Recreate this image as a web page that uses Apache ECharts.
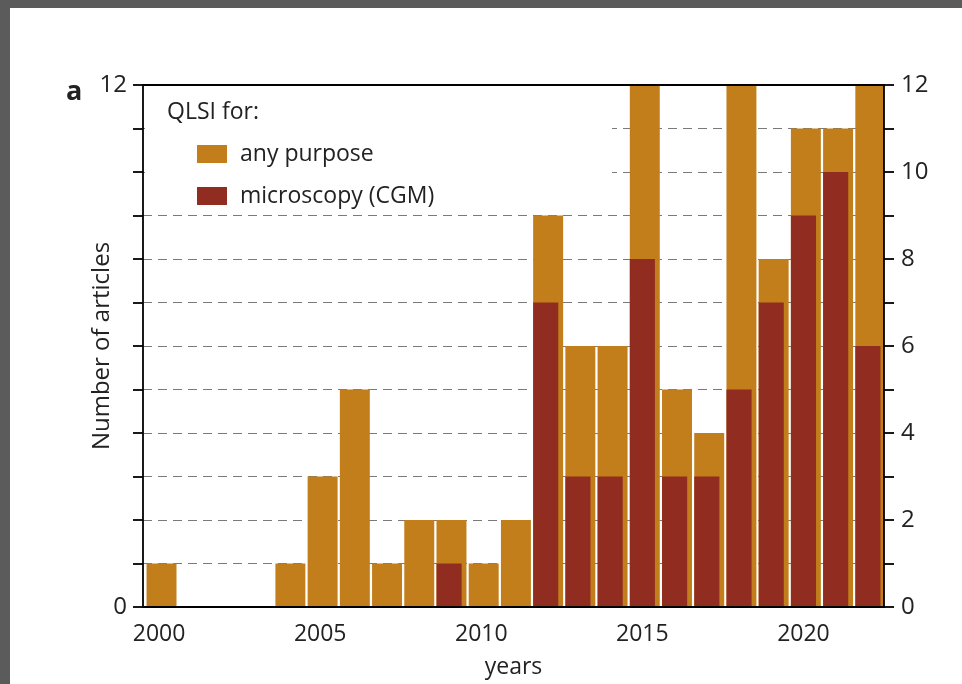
<!DOCTYPE html>
<html>
<head>
<meta charset="utf-8">
<script src="https://cdn.jsdelivr.net/npm/echarts@6/dist/echarts.min.js"></script>
<style>
  html, body { margin: 0; padding: 0; background: #5b5b5b; width: 962px; height: 684px; overflow: hidden; }
  #chart { position: absolute; left: 10px; top: 8px; width: 952px; height: 676px; background: #ffffff; }
</style>
</head>
<body>
<div id="chart"></div>
<script>
// ---- data ----
const years = ['2000','2001','2002','2003','2004','2005','2006','2007','2008','2009','2010','2011','2012','2013','2014','2015','2016','2017','2018','2019','2020','2021','2022'];
const anyPurpose = [1,0,0,0,1,3,5,1,2,2,1,2,9,6,6,12,5,4,12,8,11,11,12];
const microscopy = [0,0,0,0,0,0,0,0,0,1,0,0,7,3,3,8,3,3,5,7,9,10,6];
const leftTickLabels = [0, 12];
const rightTickLabels = [0, 2, 4, 6, 8, 10, 12];

const FONT = 'Open Sans';
const TXT = '#222222';
const ORANGE = '#C17E1B';
const RED = '#912D20';

const chart = echarts.init(document.getElementById('chart'), null, { renderer: 'canvas' });

const axisLineStyle = { color: '#000', width: 1.8 };

chart.setOption({
  animation: false,
  textStyle: { fontFamily: FONT },
  grid: { left: 133, top: 77, width: 741, height: 522 },
  title: [
    { text: 'a', left: 51, top: 66, textStyle: { fontFamily: FONT, fontWeight: 'bold', fontSize: 27, color: TXT } },
    { text: 'QLSI for:', left: 152, top: 88, textStyle: { fontFamily: FONT, fontWeight: 'normal', fontSize: 23, color: TXT } }
  ],
  legend: {
    orient: 'vertical',
    left: 187, top: 134,
    padding: 0,
    itemWidth: 30, itemHeight: 18, itemGap: 18,
    icon: 'rect',
    textStyle: { fontFamily: FONT, fontSize: 23, color: TXT, lineHeight: 24, padding: [0, 0, 0, 8] },
    data: ['any purpose', 'microscopy (CGM)']
  },
  graphic: [
    { type: 'rect', z: 1, silent: true, shape: { x: 135, y: 79, width: 467, height: 108 }, style: { fill: '#ffffff' } }
  ],
  xAxis: [
    {
      type: 'category', data: years, position: 'bottom', z: 6,
      axisLine: { show: true, onZero: false, lineStyle: axisLineStyle },
      axisTick: { show: false },
      axisLabel: { interval: 4, fontFamily: FONT, fontSize: 23, color: TXT, margin: 16 },
      name: 'years', nameLocation: 'middle', nameGap: 49, nameMoveOverlap: false,
      nameTextStyle: { fontFamily: FONT, fontSize: 23, color: TXT },
      splitLine: { show: false }
    },
    {
      type: 'category', data: years, position: 'top', z: 6,
      axisLine: { show: true, onZero: false, lineStyle: axisLineStyle },
      axisTick: { show: false }, axisLabel: { show: false }, splitLine: { show: false }
    }
  ],
  yAxis: [
    {
      type: 'value', position: 'left', min: 0, max: 12, interval: 1,
      axisLine: { show: true, onZero: false, lineStyle: axisLineStyle },
      axisTick: { show: true, inside: false, length: 10, lineStyle: { color: '#000', width: 1.8 } },
      axisLabel: {
        fontFamily: FONT, fontSize: 24, color: TXT, margin: 16,
        formatter: v => leftTickLabels.indexOf(v) >= 0 ? String(v) : ''
      },
      splitLine: { show: true, lineStyle: { color: '#7a7a7a', width: 1, type: [9, 6] } },
      name: 'Number of articles', nameLocation: 'middle', nameGap: 29, nameMoveOverlap: false,
      nameTextStyle: { fontFamily: FONT, fontSize: 24, color: TXT }
    },
    {
      type: 'value', position: 'right', min: 0, max: 12, interval: 1, z: 6,
      axisLine: { show: true, onZero: false, lineStyle: axisLineStyle },
      axisTick: { show: true, inside: false, length: 10, lineStyle: { color: '#000', width: 1.8 } },
      axisLabel: {
        fontFamily: FONT, fontSize: 24, color: TXT, margin: 17,
        formatter: v => rightTickLabels.indexOf(v) >= 0 ? String(v) : ''
      },
      splitLine: { show: false }
    }
  ],
  series: [
    {
      name: 'any purpose', type: 'bar', data: anyPurpose,
      xAxisIndex: 0, yAxisIndex: 0,
      barWidth: '93%', barGap: '-100%',
      itemStyle: { color: ORANGE },
      z: 3
    },
    {
      name: 'microscopy (CGM)', type: 'bar', data: microscopy,
      xAxisIndex: 0, yAxisIndex: 0,
      barWidth: '78%', barGap: '-100%',
      itemStyle: { color: RED },
      z: 4
    }
  ]
});
</script>
</body>
</html>
